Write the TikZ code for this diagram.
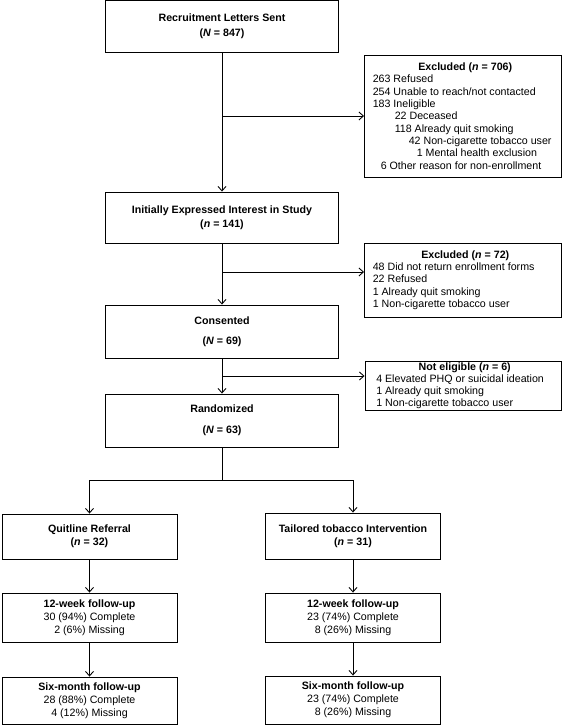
\documentclass[tikz,border=0pt]{standalone}
\usepackage{fontspec}
\setmainfont{Liberation Sans}
\usetikzlibrary{arrows.meta}
\begin{document}
\begin{tikzpicture}[x=1bp,y=-1bp,
  box/.style={draw, line width=0.9bp, rectangle, inner sep=0pt, align=center,
    font=\fontsize{10.7}{12.4}\selectfont},
  mainbox/.style={box, minimum width=233bp},
  exbox/.style={box, align=left, minimum width=196.5bp},
  armbox/.style={box, minimum width=175bp, font=\fontsize{10.7}{13}\selectfont},
  plain/.style={line width=0.9bp},
  conn/.style={line width=0.9bp, -{Straight Barb[length=4.5bp,width=8bp,line width=0.9bp]}}]
\useasboundingbox (0,0) rectangle (567,725);

% main column
\node[mainbox, minimum height=52bp] (b1) at (222,26.5)
  {\textbf{Recruitment Letters Sent}\\[2.6bp]\textbf{(\textit{N} = 847)}};
\node[mainbox, minimum height=51bp] (b2) at (222,217.5)
  {\textbf{Initially Expressed Interest in Study}\\[1.6bp]\textbf{(\textit{n} = 141)}};
\node[mainbox, minimum height=53bp] (b3) at (222,331.5)
  {\textbf{Consented}\\[7.6bp]\textbf{(\textit{N} = 69)}};
\node[mainbox, minimum height=53bp] (b4) at (222,420.5)
  {\textbf{Randomized}\\[8.6bp]\textbf{(\textit{N} = 63)}};

% exclusion boxes
\node[exbox, minimum height=122bp] (ex1) at (462.75,116)
  {\hspace*{5bp}\makebox[175bp][c]{\textbf{Excluded (\textit{n} = 706)}}\\
   263 Refused\\
   254 Unable to reach/not contacted\\
   183 Ineligible\\
   \hspace*{22bp}22 Deceased\\
   \hspace*{22bp}118 Already quit smoking\\
   \hspace*{36bp}42 Non-cigarette tobacco user\\
   \hspace*{44bp}1 Mental health exclusion\\
   \hspace*{8bp}6 Other reason for non-enrollment};
\node[exbox, minimum height=74bp] (ex2) at (462.75,280)
  {\hspace*{5bp}\makebox[175bp][c]{\textbf{Excluded (\textit{n} = 72)}}\\
   48 Did not return enrollment forms\\
   22 Refused\\
   1 Already quit smoking\\
   1 Non-cigarette tobacco user};
\node[exbox, minimum height=49bp, font=\fontsize{10.7}{12.2}\selectfont] (ex3) at (463.25,385.5)
  {\hspace*{3bp}\makebox[175bp][c]{\textbf{Not eligible (\textit{n} = 6)}}\\
   \hspace*{2bp}4 Elevated PHQ or suicidal ideation\\
   \hspace*{2bp}1 Already quit smoking\\
   \hspace*{2bp}1 Non-cigarette tobacco user};

% arms
\node[armbox, minimum height=45bp] (q0) at (89.5,536.5)
  {\textbf{Quitline Referral}\\\textbf{(\textit{n} = 32)}};
\node[armbox, minimum height=46bp] (t0) at (353,536)
  {\textbf{Tailored tobacco Intervention}\\\textbf{(\textit{n} = 31)}};
\node[armbox, minimum height=49bp] (q1) at (89.5,617.5)
  {\textbf{12-week follow-up}\\30 (94\%) Complete\\2 (6\%) Missing};
\node[armbox, minimum height=49bp] (t1) at (353,617.5)
  {\textbf{12-week follow-up}\\23 (74\%) Complete\\8 (26\%) Missing};
\node[armbox, minimum height=47bp] (q2) at (89.5,700.5)
  {\textbf{Six-month follow-up}\\28 (88\%) Complete\\4 (12\%) Missing};
\node[armbox, minimum height=48bp] (t2) at (353,700)
  {\textbf{Six-month follow-up}\\23 (74\%) Complete\\8 (26\%) Missing};

% connectors
\coordinate (j1) at (222,116);
\coordinate (j2) at (222,272);
\coordinate (j3) at (222,376);
\coordinate (s) at (222,480);
\draw[conn] (b1.south) -- (b2.north);
\draw[conn] (j1) -- (j1 -| ex1.west);
\draw[conn] (b2.south) -- (b3.north);
\draw[conn] (j2) -- (j2 -| ex2.west);
\draw[conn] (b3.south) -- (b4.north);
\draw[conn] (j3) -- (j3 -| ex3.west);
\draw[plain] (b4.south) -- (s);
\draw[conn] (s) -| (q0.north);
\draw[conn] (s) -| (t0.north);
\draw[conn] (q0.south) -- (q1.north);
\draw[conn] (q1.south) -- (q2.north);
\draw[conn] (t0.south) -- (t1.north);
\draw[conn] (t1.south) -- (t2.north);
\end{tikzpicture}
\end{document}
